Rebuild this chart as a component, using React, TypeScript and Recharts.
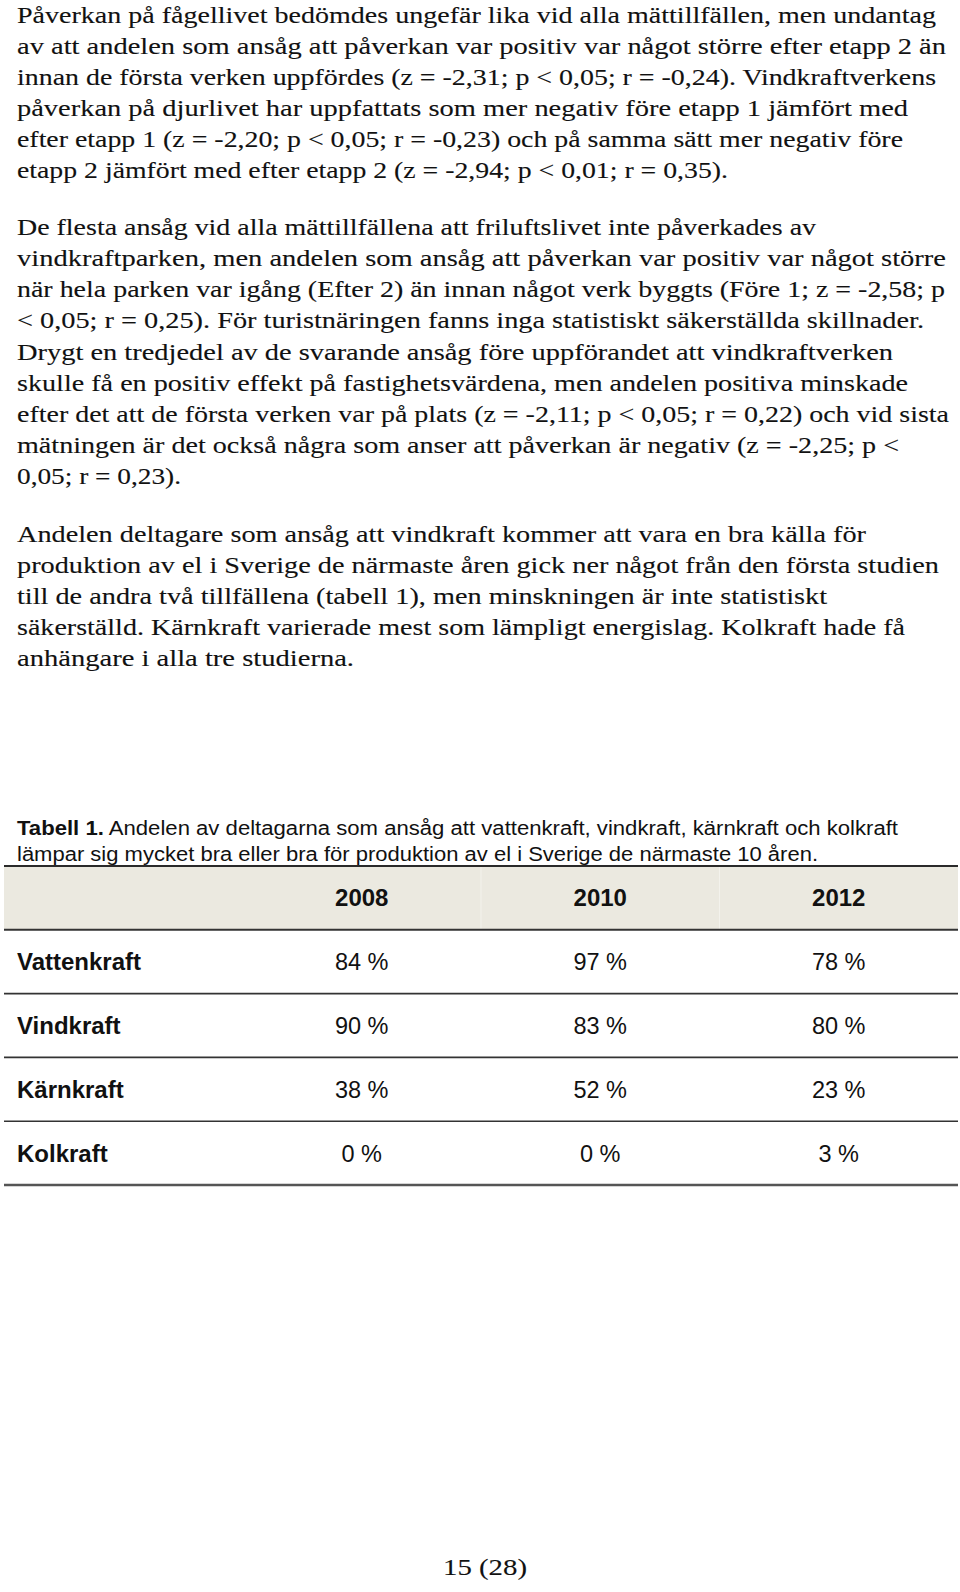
import React from 'react';
import { ScatterChart, Scatter, XAxis, YAxis, ReferenceArea, ReferenceLine } from 'recharts';

// ---------- table data ----------
const years = ['2008', '2010', '2012'];
const sources = ['Vattenkraft', 'Vindkraft', 'Kärnkraft', 'Kolkraft'];
const values2008 = [84, 90, 38, 0];
const values2010 = [97, 83, 52, 0];
const values2012 = [78, 80, 23, 3];
const seriesValues = [values2008, values2010, values2012];

// ---------- page text ----------
const para1 = [
  'Påverkan på fågellivet bedömdes ungefär lika vid alla mättillfällen, men undantag',
  'av att andelen som ansåg att påverkan var positiv var något större efter etapp 2 än',
  'innan de första verken uppfördes (z = -2,31; p < 0,05; r = -0,24). Vindkraftverkens',
  'påverkan på djurlivet har uppfattats som mer negativ före etapp 1 jämfört med',
  'efter etapp 1 (z = -2,20; p < 0,05; r = -0,23) och på samma sätt mer negativ före',
  'etapp 2 jämfört med efter etapp 2 (z = -2,94; p < 0,01; r = 0,35).',
];
const para1Ends = [936, 946, 936, 908, 903, 728];

const para2 = [
  'De flesta ansåg vid alla mättillfällena att friluftslivet inte påverkades av',
  'vindkraftparken, men andelen som ansåg att påverkan var positiv var något större',
  'när hela parken var igång (Efter 2) än innan något verk byggts (Före 1; z = -2,58; p',
  '< 0,05; r = 0,25). För turistnäringen fanns inga statistiskt säkerställda skillnader.',
  'Drygt en tredjedel av de svarande ansåg före uppförandet att vindkraftverken',
  'skulle få en positiv effekt på fastighetsvärdena, men andelen positiva minskade',
  'efter det att de första verken var på plats (z = -2,11; p < 0,05; r = 0,22) och vid sista',
  'mätningen är det också några som anser att påverkan är negativ (z = -2,25; p <',
  '0,05; r = 0,23).',
];
const para2Ends = [816, 946, 945, 924, 893, 908, 949, 899, 181];

const para3 = [
  'Andelen deltagare som ansåg att vindkraft kommer att vara en bra källa för',
  'produktion av el i Sverige de närmaste åren gick ner något från den första studien',
  'till de andra två tillfällena (tabell 1), men minskningen är inte statistiskt',
  'säkerställd. Kärnkraft varierade mest som lämpligt energislag. Kolkraft hade få',
  'anhängare i alla tre studierna.',
];
const para3Ends = [866, 939, 827, 905, 354];

const captionBold = 'Tabell 1.';
const captionRest1 = ' Andelen av deltagarna som ansåg att vattenkraft, vindkraft, kärnkraft och kolkraft';
const captionLine2 = 'lämpar sig mycket bra eller bra för produktion av el i Sverige de närmaste 10 åren.';
const pageNumber = '15 (28)';

const SERIF = "'Liberation Serif', 'Times New Roman', serif";
const SANS = "'Liberation Sans', Arial, Helvetica, sans-serif";
const LEFT = 17;

const headerData = years.map((y, j) => ({ col: j + 1.5, row: 0.5, label: y }));
const labelData = sources.map((s, i) => ({ col: 0, row: i + 1.5, label: s }));
const cellData = sources.flatMap((s, i) =>
  years.map((y, j) => ({ col: j + 1.5, row: i + 1.5, label: `${seriesValues[j][i]} %` }))
);

const Para = ({ lines, ends, start, step }: { lines: string[]; ends: number[]; start: number; step: number }) => (
  <g>
    {lines.map((l, i) => (
      <text
        key={i}
        x={LEFT}
        y={start + step * i}
        textLength={ends[i] - LEFT}
        lengthAdjust="spacingAndGlyphs"
        fontFamily={SERIF}
        fontSize={24}
        fill="#111"
        stroke="#111"
        strokeWidth={0.12}
      >
        {l}
      </text>
    ))}
  </g>
);

const centerText = (bold: boolean, size: number) => (props: any) => {
  const { cx, cy, payload } = props;
  return (
    <text x={cx} y={cy + 8.5} textAnchor="middle" fontFamily={SANS} fontSize={size} fontWeight={bold ? 700 : 400} fill="#111">
      {payload.label}
    </text>
  );
};

const leftText = (props: any) => {
  const { cx, cy, payload } = props;
  return (
    <text x={cx + 13} y={cy + 8.5} textAnchor="start" fontFamily={SANS} fontSize={24} fontWeight={700} fill="#111">
      {payload.label}
    </text>
  );
};

export default function App() {
  return (
    <div style={{ position: 'absolute', left: 0, top: 0, width: 960, height: 1592, background: '#fff' }}>
      <svg width={960} height={1592} style={{ position: 'absolute', left: 0, top: 0 }}>
        <Para lines={para1} ends={para1Ends} start={22.5} step={31.1} />
        <Para lines={para2} ends={para2Ends} start={235} step={31.15} />
        <Para lines={para3} ends={para3Ends} start={542} step={31.1} />
        <text x={LEFT} y={835} textLength={898 - LEFT} lengthAdjust="spacingAndGlyphs" fontFamily={SANS} fontSize={20} fill="#111">
          <tspan fontWeight={700}>{captionBold}</tspan>
          <tspan>{captionRest1}</tspan>
        </text>
        <text x={LEFT} y={860.5} textLength={818 - LEFT} lengthAdjust="spacingAndGlyphs" fontFamily={SANS} fontSize={20} fill="#111">
          {captionLine2}
        </text>
        <text x={485} y={1575} textAnchor="middle" textLength={84} lengthAdjust="spacingAndGlyphs" fontFamily={SERIF} fontSize={24} fill="#111" stroke="#111" strokeWidth={0.12}>
          {pageNumber}
        </text>
      </svg>
      <div style={{ position: 'absolute', left: 4, top: 864 }}>
        <ScatterChart width={954} height={323} margin={{ top: 2, right: 0, bottom: 2, left: 0 }}>
          <XAxis type="number" dataKey="col" domain={[0, 4]} hide />
          <YAxis type="number" dataKey="row" domain={[0, 5]} reversed hide />
          <ReferenceArea x1={0} x2={4} y1={0} y2={1} fill="#EBE9E0" fillOpacity={1} stroke="none" />
          <ReferenceLine segment={[{ x: 2, y: 0 }, { x: 2, y: 1 }]} stroke="#F3F2EC" strokeWidth={1} />
          <ReferenceLine segment={[{ x: 3, y: 0 }, { x: 3, y: 1 }]} stroke="#F3F2EC" strokeWidth={1} />
          <ReferenceLine y={0} stroke="#2a2a2a" strokeWidth={2} />
          <ReferenceLine y={1} stroke="#333" strokeWidth={2} />
          <ReferenceLine y={2} stroke="#333" strokeWidth={1.6} />
          <ReferenceLine y={3} stroke="#333" strokeWidth={1.6} />
          <ReferenceLine y={4} stroke="#333" strokeWidth={1.6} />
          <ReferenceLine y={5} stroke="#555" strokeWidth={2.5} />
          <Scatter data={headerData} shape={centerText(true, 24)} isAnimationActive={false} />
          <Scatter data={labelData} shape={leftText} isAnimationActive={false} />
          <Scatter data={cellData} shape={centerText(false, 23.5)} isAnimationActive={false} />
        </ScatterChart>
      </div>
    </div>
  );
}
